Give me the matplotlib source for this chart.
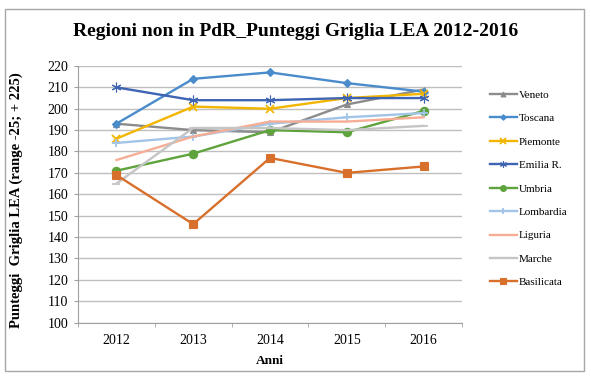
import numpy as np
import matplotlib.pyplot as plt
from matplotlib.patches import Rectangle

plt.rcParams['font.family'] = ['Liberation Serif', 'DejaVu Serif']

#%% data

anni = ['2012', '2013', '2014', '2015', '2016']

veneto = [193, 190, 189, 202, 209]
toscana = [193, 214, 217, 212, 208]
piemonte = [186, 201, 200, 205, 207]
emilia = [210, 204, 204, 205, 205]
umbria = [171, 179, 190, 189, 199]
lombardia = [184, 187, 193, 196, 198]
liguria = [176, 187, 194, 194, 196]
marche = [165, 191, 191, 190, 192]
basilicata = [169, 146, 177, 170, 173]

#%% series styles

series = [
    ('Veneto', veneto, '#8c8c8c', '^', 5),
    ('Toscana', toscana, '#4a8bcc', 'D', 4),
    ('Piemonte', piemonte, '#f2b600', 'x', 6),
    ('Emilia R.', emilia, '#3f64b4', (6, 2, 0), 7),
    ('Umbria', umbria, '#5fa33c', 'o', 6),
    ('Lombardia', lombardia, '#a2c4e8', '+', 6),
    ('Liguria', liguria, '#f5ae95', '', 0),
    ('Marche', marche, '#c5c5c5', '_', 6),
    ('Basilicata', basilicata, '#d8702c', 's', 6),
]

#%% plot

fig = plt.figure(figsize=(5.91, 3.91), dpi=100)
ax = fig.add_axes([78/591, 1 - 322.5/391, (462-78)/591, (322.5-66)/391])

x = np.arange(len(anni))
for name, vals, col, mk, ms in series:
    ax.plot(x, vals, color=col, marker=mk if mk != '' else None, markersize=ms,
            linewidth=1.7, label=name, markeredgewidth=1.3 if mk in ['x', '+', '_'] else 0.8)

ax.set_xlim(-0.5, 4.5)
ax.set_ylim(100, 220)
ax.set_yticks(np.arange(100, 221, 10))
ax.set_xticks(x)
ax.set_xticklabels(anni)
ax.set_xticks(np.arange(-0.5, 4.6, 1), minor=True)
ax.tick_params(axis='x', which='major', length=0, pad=8, labelsize=10)
ax.tick_params(axis='x', which='minor', length=3, color='#a0a0a0')
ax.tick_params(axis='y', length=3, color='#a0a0a0', labelsize=10, pad=4)
ax.yaxis.grid(True, color='#bfbfbf', linewidth=1)
ax.set_axisbelow(True)
for s in ['top', 'right']:
    ax.spines[s].set_visible(False)
for s in ['left', 'bottom']:
    ax.spines[s].set_color('#a0a0a0')

ax.set_xlabel('Anni', fontweight='bold', fontsize=9.5, labelpad=6)
ax.set_ylabel('Punteggi  Griglia LEA (range -25; + 225)', fontweight='bold', fontsize=10.5)
ax.yaxis.set_label_coords((23 - 78) / 384, 0.5 - 5.75 / 256.5)

fig.text(0.5, 1 - 32/391, 'Regioni non in PdR_Punteggi Griglia LEA 2012-2016',
         ha='center', va='center', fontsize=14, fontweight='bold')

ax.legend(loc='upper left', bbox_to_anchor=(480/591, 1 - 80/391), bbox_transform=fig.transFigure,
          frameon=False, fontsize=8, labelspacing=1.23, handlelength=2.4, handletextpad=0.2,
          markerscale=0.7)

# outer frame
fig.patches.append(Rectangle((5/591, 1 - 371/391), (584-5)/591, (371-9)/391,
                             transform=fig.transFigure, fill=False, edgecolor='#a6a6a6', linewidth=1))

plt.savefig('out.png', dpi=100)
